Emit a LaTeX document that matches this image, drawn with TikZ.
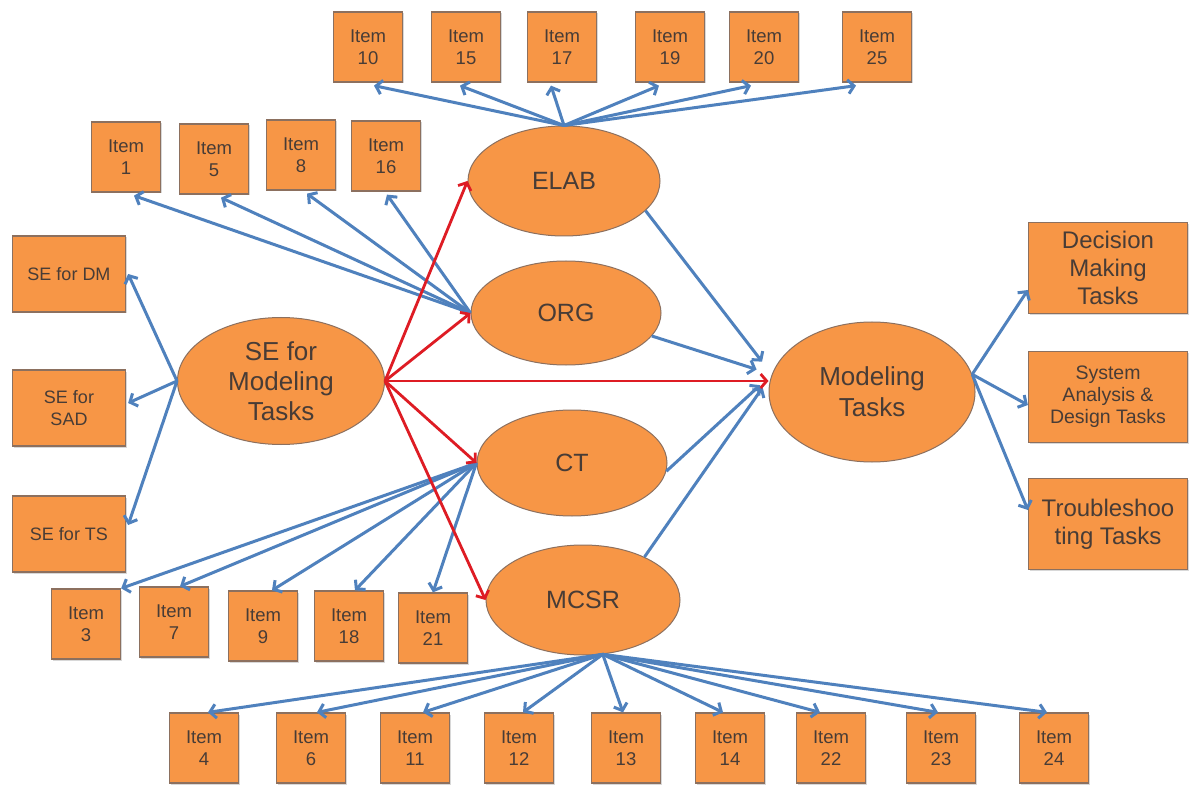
\documentclass[tikz,border=0pt]{standalone}
\usepackage{fontspec}
\setmainfont{Liberation Sans}
\usetikzlibrary{arrows.meta,shapes.geometric,shadows}
\definecolor{orng}{RGB}{247,150,70}
\definecolor{edge}{RGB}{140,112,95}
\definecolor{txt}{RGB}{72,60,54}
\definecolor{lnblue}{RGB}{79,129,189}
\definecolor{lnred}{RGB}{222,28,36}

\begin{document}
\begin{tikzpicture}[x=1pt,y=-1pt,
  boxbase/.style={rectangle, draw=edge, fill=orng, line width=1.3pt, inner sep=0pt,
    align=center, text=txt,
    drop shadow={shadow xshift=1.5pt, shadow yshift=-1.5pt, opacity=0.3}},
  itembox/.style={boxbase, minimum width=69pt, minimum height=70pt,
    font=\fontsize{18.5}{22}\selectfont},
  sebox/.style={boxbase, minimum width=113pt, minimum height=76pt,
    font=\fontsize{18}{22}\selectfont},
  taskbox/.style={boxbase, minimum width=159pt, minimum height=91pt},
  latent/.style={ellipse, draw=edge, fill=orng, line width=1pt, inner sep=0pt,
    align=center, text=txt},
  blu/.style={draw=lnblue, line width=3pt, -{Straight Barb[length=6pt,width=14pt]}},
  rd/.style={draw=lnred, line width=2.8pt, -{Straight Barb[length=6pt,width=14pt]}},
]
\useasboundingbox[fill=white] (0,0) rectangle (1189,786);

% latent constructs
\node[latent, minimum width=207pt, minimum height=127pt, font=\fontsize{26}{30}\selectfont]
  (se) at (281,381) {SE for\\Modeling\\Tasks};
\node[latent, minimum width=192pt, minimum height=110pt, font=\fontsize{25}{30}\selectfont]
  (elab) at (564,181) {ELAB};
\node[latent, minimum width=190pt, minimum height=104pt, font=\fontsize{25}{30}\selectfont]
  (org) at (566,313) {ORG};
\node[latent, minimum width=190pt, minimum height=106pt, font=\fontsize{25}{30}\selectfont]
  (ct) at (572,463) {CT};
\node[latent, minimum width=194pt, minimum height=110pt, font=\fontsize{25}{30}\selectfont]
  (mcsr) at (583,600) {MCSR};
\node[latent, minimum width=206pt, minimum height=140pt, font=\fontsize{26}{31}\selectfont]
  (mt) at (872,392) {Modeling\\Tasks};

% self-efficacy sub-scales
\node[sebox] (dm)  at (69,274) {SE for DM};
\node[sebox] (sad) at (69,408) {SE for\\SAD};
\node[sebox] (ts)  at (69,534) {SE for TS};

% task types
\node[taskbox, font=\fontsize{24}{28}\selectfont] (dmt) at (1108,268) {Decision\\Making\\Tasks};
\node[taskbox, font=\fontsize{19.5}{22}\selectfont] (sadt) at (1108,397) {System\\Analysis \&\\Design Tasks};
\node[taskbox, font=\fontsize{24}{28}\selectfont] (tst) at (1108,524) {Troubleshoo\\ting Tasks};

% ELAB items
\node[itembox] (i10) at (368,47) {Item\\10};
\node[itembox] (i15) at (466,47) {Item\\15};
\node[itembox] (i17) at (562,47) {Item\\17};
\node[itembox] (i19) at (670,47) {Item\\19};
\node[itembox] (i20) at (764,47) {Item\\20};
\node[itembox] (i25) at (877,47) {Item\\25};

% ORG items
\node[itembox] (i1)  at (126,157) {Item\\1};
\node[itembox] (i5)  at (214,159) {Item\\5};
\node[itembox] (i8)  at (301,155) {Item\\8};
\node[itembox] (i16) at (386,156) {Item\\16};

% CT items
\node[itembox] (i3)  at (86,624)  {Item\\3};
\node[itembox] (i7)  at (174,622) {Item\\7};
\node[itembox] (i9)  at (263,626) {Item\\9};
\node[itembox] (i18) at (349,626) {Item\\18};
\node[itembox] (i21) at (433,628) {Item\\21};

% MCSR items
\node[itembox] (i4)  at (204,748)  {Item\\4};
\node[itembox] (i6)  at (311,748)  {Item\\6};
\node[itembox] (i11) at (415,748)  {Item\\11};
\node[itembox] (i12) at (519,748)  {Item\\12};
\node[itembox] (i13) at (626,748)  {Item\\13};
\node[itembox] (i14) at (730,748)  {Item\\14};
\node[itembox] (i22) at (831,748)  {Item\\22};
\node[itembox] (i23) at (941,748)  {Item\\23};
\node[itembox] (i24) at (1054,748) {Item\\24};

% measurement paths
\foreach \t/\dx in {i10/6, i15/-6, i17/-11, i19/-11, i20/-13, i25/-21}
  \draw[blu] (elab.north) -- ([xshift=\dx pt, yshift=-3pt]\t.south);
\foreach \t/\dx in {i1/8, i5/7, i8/6, i16/1}
  \draw[blu] (org.west) -- ([xshift=\dx pt, yshift=-3pt]\t.south);
\draw[blu] (ct.west) -- (i3.north east);
\foreach \t/\dx in {i7/6, i9/9, i18/6, i21/0}
  \draw[blu] (ct.west) -- ([xshift=\dx pt]\t.north);
\foreach \t/\dx in {i4/4, i6/6, i11/8, i12/4, i13/-3, i14/-7, i22/-11, i23/-3, i24/-7}
  \draw[blu] (mcsr.-70) -- ([xshift=\dx pt]\t.north);

\draw[blu] (se.west) -- ([xshift=2pt]dm.east);
\draw[blu] (se.west) -- ([xshift=2pt, yshift=5pt]sad.east);
\draw[blu] (se.west) -- ([xshift=2pt, yshift=9pt]ts.east);

% structural paths
\draw[blu, shorten >=16pt] (elab.-20) -- (mt.170);
\draw[blu, shorten >=16pt] (org.-15)  -- (mt.170);
\draw[blu, shorten >=16pt] (ct.-5)    -- (mt.170);
\draw[blu, shorten >=16pt] (mcsr.35)  -- (mt.170);

\draw[blu] (mt.10) -- ([yshift=-22pt]dmt.west);
\draw[blu] (mt.10) -- ([yshift=-8pt]sadt.west);
\draw[blu] (mt.10) -- ([yshift=14pt]tst.west);

% mediated paths from self-efficacy
\draw[rd] (se.east) -- (elab.west);
\draw[rd] (se.east) -- (org.west);
\draw[rd] (se.east) -- (mt.west |- se.east);
\draw[rd] (se.east) -- (ct.west);
\draw[rd] (se.east) -- (mcsr.west);
\end{tikzpicture}
\end{document}
